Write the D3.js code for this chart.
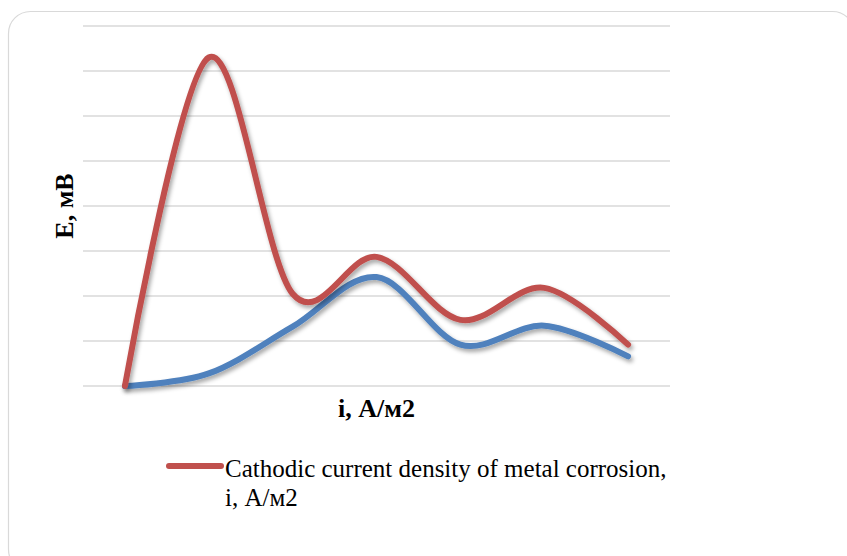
<!DOCTYPE html>
<html lang="en">
<head>
<meta charset="utf-8">
<title>Cathodic current density</title>
<script src="https://d3js.org/d3.v7.min.js"></script>
<style>
	body { margin: 0; background: #fff; }
</style>
</head>
<body>
<script>
// categories (no labels shown on the axis)
var categories = [1, 2, 3, 4, 5, 6, 7];
// E values, one unit per gridline
var redValues = [0, 7.3, 2.05, 2.87, 1.47, 2.18, 0.92];
var blueValues = [0, 0.28, 1.32, 2.42, 0.92, 1.34, 0.66];
var yTicks = [0, 1, 2, 3, 4, 5, 6, 7, 8];
var legendLines = ["Cathodic current density of metal corrosion,", "i, А/м2"];

var width = 847, height = 556;
var plot = {left: 83, right: 670, top: 26, bottom: 386};
var serif = "'Liberation Serif', 'Times New Roman', serif";

var svg = d3.select("body").append("svg")
	.attr("width", width)
	.attr("height", height);

var defs = svg.append("defs");
var shadow = defs.append("filter").attr("id", "shadow")
	.attr("x", "-10%").attr("y", "-10%").attr("width", "130%").attr("height", "130%");
shadow.append("feDropShadow")
	.attr("dx", 2).attr("dy", 3).attr("stdDeviation", 2)
	.attr("flood-color", "#000").attr("flood-opacity", 0.35);

// chart border
svg.append("rect")
	.attr("x", 8.5).attr("y", 11.5)
	.attr("width", 846).attr("height", 560)
	.attr("rx", 22)
	.attr("fill", "#fff")
	.attr("stroke", "#d9d9d9")
	.attr("stroke-width", 1.2);

var x = d3.scaleBand().domain(categories).range([plot.left, plot.right]);
var y = d3.scaleLinear().domain([0, 8]).range([plot.bottom, plot.top]);

// gridlines
svg.append("g")
	.selectAll("line")
	.data(yTicks)
	.enter().append("line")
	.attr("x1", plot.left).attr("x2", plot.right)
	.attr("y1", d => y(d)).attr("y2", d => y(d))
	.attr("stroke", "#d9d9d9")
	.attr("stroke-width", 1.3);

var line = d3.line()
	.x((d, i) => x(categories[i]) + x.bandwidth() / 2)
	.y(d => y(d))
	.curve(d3.curveCardinal.tension(0));

svg.append("path")
	.datum(blueValues)
	.attr("d", line)
	.attr("fill", "none")
	.attr("stroke", "#4F81BD")
	.attr("stroke-width", 6)
	.attr("stroke-linecap", "round")
	.attr("filter", "url(#shadow)");

svg.append("path")
	.datum(redValues)
	.attr("d", line)
	.attr("fill", "none")
	.attr("stroke", "#C0504D")
	.attr("stroke-width", 6)
	.attr("stroke-linecap", "round")
	.attr("filter", "url(#shadow)");

// axis titles
svg.append("text")
	.attr("transform", "translate(73,206) rotate(-90)")
	.attr("text-anchor", "middle")
	.style("font-family", serif)
	.style("font-weight", "bold")
	.style("font-size", "26px")
	.text("E, мВ");

svg.append("text")
	.attr("x", (plot.left + plot.right) / 2)
	.attr("y", 417)
	.attr("text-anchor", "middle")
	.style("font-family", serif)
	.style("font-weight", "bold")
	.style("font-size", "26px")
	.text("i, А/м2");

// legend
svg.append("line")
	.attr("x1", 169).attr("x2", 221)
	.attr("y1", 466).attr("y2", 466)
	.attr("stroke", "#C0504D")
	.attr("stroke-width", 6)
	.attr("stroke-linecap", "round");

svg.append("g")
	.selectAll("text")
	.data(legendLines)
	.enter().append("text")
	.attr("x", 225)
	.attr("y", (d, i) => 477 + i * 29)
	.style("font-family", serif)
	.style("font-size", "25px")
	.style("fill", "#000")
	.text(d => d);
</script>
</body>
</html>
